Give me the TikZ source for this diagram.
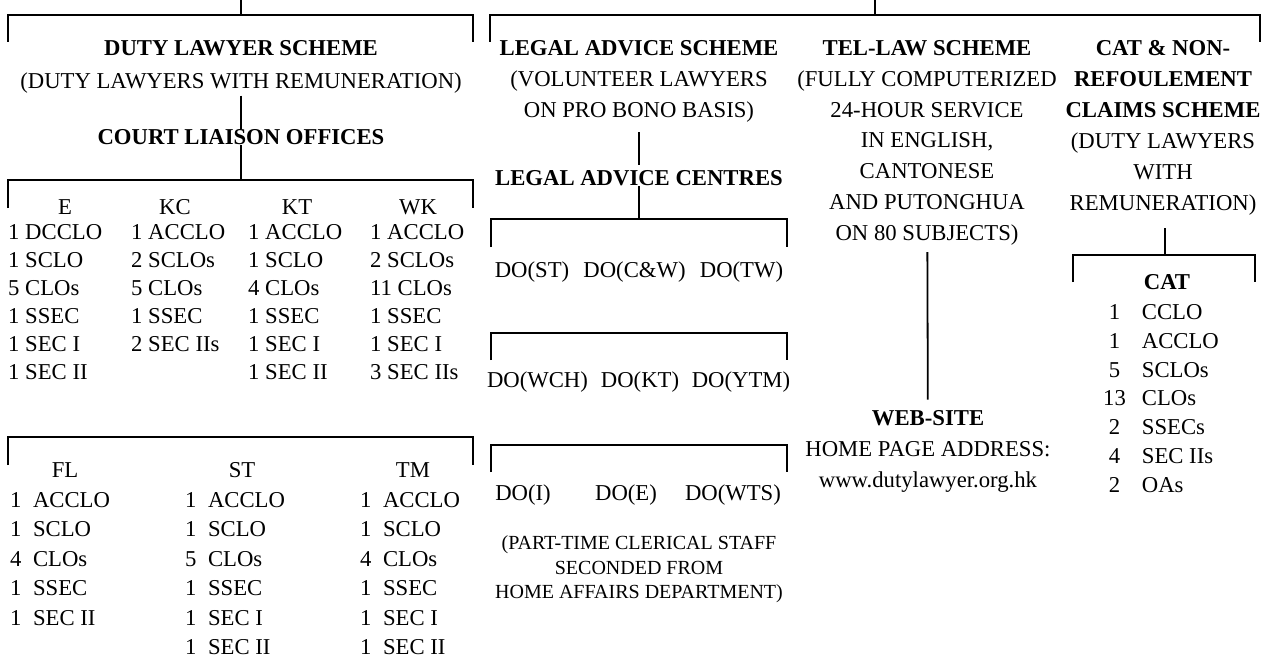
\documentclass[tikz,border=0pt]{standalone}
\usepackage{fontspec}
\setmainfont{Liberation Serif}
\newcommand{\txt}{\fontsize{22.7}{31}\selectfont}
\newcommand{\cstack}[1]{\begin{tabular}[t]{@{}c@{}}#1\end{tabular}}
\newcommand{\lstack}[1]{\begin{tabular}[t]{@{}l@{}}#1\end{tabular}}
\newcommand{\nstack}[1]{\begin{tabular}[t]{@{}l@{\hspace{11.5pt}}l@{}}#1\end{tabular}}
\newcommand{\catstack}[1]{\begin{tabular}[t]{@{}c@{\hspace{16pt}}l@{}}#1\end{tabular}}
\tikzstyle{every node}=[inner sep=0pt, anchor=base, font=\txt]
\tikzstyle{col}=[anchor=base west]
\tikzstyle{conn}=[line width=1.8pt]

\begin{document}
\begin{tikzpicture}[x=1pt, y=-1pt]
    \useasboundingbox (0,0) rectangle (1263,661);
    % duty lawyer scheme
    \node (dls) at (241,55.5) [font=\fontsize{22.7}{33}\selectfont] {\cstack{\textbf{DUTY LAWYER SCHEME}\\(DUTY LAWYERS WITH REMUNERATION)}};
    \node (clo) at (241,144.5) {\textbf{COURT LIAISON OFFICES}};
    \node (e) at (65,214.5) {E};
    \node (kc) at (175,214.5) {KC};
    \node (kt) at (297,214.5) {KT};
    \node (wk) at (418,214.5) {WK};
    \node[col] (ecol) at (8,239.5) [font=\fontsize{22.7}{28}\selectfont] {\lstack{1 DCCLO\\1 SCLO\\5 CLOs\\1 SSEC\\1 SEC I\\1 SEC II}};
    \node[col] (kccol) at (131,239.5) [font=\fontsize{22.7}{28}\selectfont] {\lstack{1 ACCLO\\2 SCLOs\\5 CLOs\\1 SSEC\\2 SEC IIs}};
    \node[col] (ktcol) at (248,239.5) [font=\fontsize{22.7}{28}\selectfont] {\lstack{1 ACCLO\\1 SCLO\\4 CLOs\\1 SSEC\\1 SEC I\\1 SEC II}};
    \node[col] (wkcol) at (370,239.5) [font=\fontsize{22.7}{28}\selectfont] {\lstack{1 ACCLO\\2 SCLOs\\11 CLOs\\1 SSEC\\1 SEC I\\3 SEC IIs}};
    \node (fl) at (65,477.5) {FL};
    \node (st) at (242,477.5) {ST};
    \node (tm) at (413,477.5) {TM};
    \node[col] (flcol) at (10,507.5) [font=\fontsize{22.7}{29.4}\selectfont] {\nstack{1&ACCLO\\1&SCLO\\4&CLOs\\1&SSEC\\1&SEC II}};
    \node[col] (stcol) at (185,507.5) [font=\fontsize{22.7}{29.4}\selectfont] {\nstack{1&ACCLO\\1&SCLO\\5&CLOs\\1&SSEC\\1&SEC I\\1&SEC II}};
    \node[col] (tmcol) at (360,507.5) [font=\fontsize{22.7}{29.4}\selectfont] {\nstack{1&ACCLO\\1&SCLO\\4&CLOs\\1&SSEC\\1&SEC I\\1&SEC II}};
    % legal advice scheme
    \node (las) at (639,55.5) {\cstack{\textbf{LEGAL ADVICE SCHEME}\\(VOLUNTEER LAWYERS\\ON PRO BONO BASIS)}};
    \node (lac) at (639,185.5) {\textbf{LEGAL ADVICE CENTRES}};
    \node (dost) at (532,277.5) {DO(ST)};
    \node (docw) at (634.5,277.5) {DO(C\&W)};
    \node (dotw) at (741.5,277.5) {DO(TW)};
    \node (dowch) at (537.5,387.5) {DO(WCH)};
    \node (dokt) at (640,387.5) {DO(KT)};
    \node (doytm) at (741,387.5) {DO(YTM)};
    \node (doi) at (523,500.5) {DO(I)};
    \node (doe) at (626,500.5) {DO(E)};
    \node (dowts) at (733,500.5) {DO(WTS)};
    \node (note) at (639,549.6) [font=\fontsize{20}{24.5}\selectfont] {\cstack{(PART-TIME CLERICAL STAFF\\SECONDED FROM\\HOME AFFAIRS DEPARTMENT)}};
    % tel-law scheme
    \node (tel) at (927,55.5) [font=\fontsize{22.7}{30.8}\selectfont] {\cstack{\textbf{TEL-LAW SCHEME}\\(FULLY COMPUTERIZED\\24-HOUR SERVICE\\IN ENGLISH,\\CANTONESE\\AND PUTONGHUA\\ON 80 SUBJECTS)}};
    \node (web) at (928,425.5) {\cstack{\textbf{WEB-SITE}\\HOME PAGE ADDRESS:\\www.dutylawyer.org.hk}};
    % cat scheme
    \node (cat) at (1163,55.5) {\cstack{\textbf{CAT \& NON-}\\\textbf{REFOULEMENT}\\\textbf{CLAIMS SCHEME}\\(DUTY LAWYERS\\WITH\\REMUNERATION)}};
    \node (cathd) at (1167,289.5) {\textbf{CAT}};
    \node[col] (catcol) at (1103,319.5) [font=\fontsize{22.7}{28.8}\selectfont] {\catstack{1&CCLO\\1&ACCLO\\5&SCLOs\\13&CLOs\\2&SSECs\\4&SEC IIs\\2&OAs}};

    % brackets
    \coordinate (ltop) at (241,0);
    \coordinate (lmid) at (241,15);
    \coordinate (rtop) at (875,0);
    \coordinate (rmid) at (875,15);
    \coordinate (tmid) at (241,180);
    \coordinate (bmid) at (241,437);
    \coordinate (amid) at (639,219);
    \coordinate (a2mid) at (639,333);
    \coordinate (a3mid) at (639,445);
    \coordinate (cmid) at (1165,255);
    \draw[conn] (8,42) |- (lmid) -| (473,42);
    \draw[conn] (490,42) |- (rmid) -| (1260,42);
    \draw[conn] (8,208) |- (tmid) -| (473,208);
    \draw[conn] (8,465) |- (bmid) -| (473,465);
    \draw[conn] (491,247) |- (amid) -| (787,247);
    \draw[conn] (491,360) |- (a2mid) -| (787,360);
    \draw[conn] (491,472) |- (a3mid) -| (787,472);
    \draw[conn] (1073,282) |- (cmid) -| (1255,282);
    \path[draw,conn]
    (ltop) edge (lmid)
    (rtop) edge (rmid)
    (dls) edge[shorten <=-3pt] (clo)
    (clo) edge (tmid)
    (las) edge[shorten <=5pt, shorten >=5pt] (lac)
    (lac) edge (amid)
    (tel) edge[shorten <=2.5pt, shorten >=4pt] (web)
    (cat.south -| cmid) edge[shorten <=8pt] (cmid)
	;
  \end{tikzpicture}
\end{document}
